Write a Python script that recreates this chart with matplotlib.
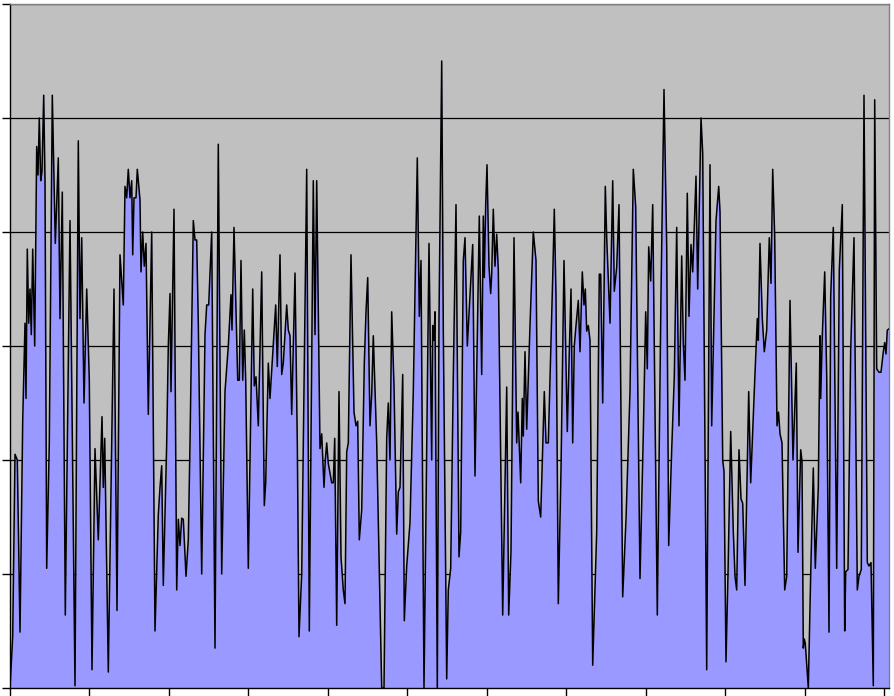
import matplotlib
matplotlib.use('Agg')
import matplotlib.pyplot as plt
import numpy as np

# values (x = position along axis, v = level, 0..60)
x = [0, 2.7, 5, 7.3, 10, 12.7, 15, 16, 17.3, 18.7, 20, 21.3, 22.7, 24.7, 26.7, 28, 29.3,
     30.7, 32, 33.7, 35, 36.7, 39.3, 42.3, 45.3, 48.3, 50, 52.3, 55.3, 60, 65, 68.3, 70,
     71.7, 74, 76.7, 79.3, 82, 85, 88.3, 92, 93.3, 94.7, 98.3, 104, 107,
     110, 113.3, 115, 116.7, 118.3, 120, 121.7, 122.7, 124, 126, 127.3, 130, 131, 132.7,
     134.3, 136, 138.3, 141.7, 145, 148.3, 150, 151.7, 153.3, 156.7, 158.3, 160, 161, 164,
     166.7, 168.3, 170, 171.7, 173.3, 176, 178.3, 180, 183.3, 185, 186.7, 188.3, 191.7,
     195, 196.7, 198.7, 201.7, 205, 208.3, 211.7,
     215, 218.3, 221, 222, 224, 227.7, 229.3, 231, 232.7, 234.3, 235.7, 238.3, 242.7,
     244.3, 246, 248.3, 251.7, 254.3, 255.7, 258.3, 260, 262.7, 265.7, 267.3, 270, 271.7,
     273.3, 276.7, 278.3, 280, 281.7, 285, 287.3, 289, 291.7, 296.7, 299.3, 303.3, 305,
     306.7, 310, 311.7, 314, 315.3, 316.7, 318.3, 321.7, 323.3, 324.7, 326.7, 329, 331,
     333.3, 335, 336.7, 338.3, 341, 344, 346, 347.7, 349.3, 351.7, 354.3, 356, 357.7, 360,
     361.7, 363.3, 366.7, 370, 371.7, 374, 376.7, 378.3, 380, 381.7, 384, 386.7, 388.3,
     390, 392.7, 394.3, 396.7, 400, 403.3, 407.3, 409.3, 411, 414, 415.7, 419, 421.7,
     422.7, 424, 425, 427.3, 429, 431.7, 433.3, 436.7, 438.3, 440.7,
     443.3, 446, 449, 450.7, 453.3, 455, 457.3, 460, 462.7, 465, 469.3, 471.7, 473.3,
     474.3, 475.7, 477, 479, 480.7, 481.7, 483.3, 485, 486.7, 488.3, 492.7, 496.7, 498.7,
     501, 504, 506.7, 508, 510.7, 512.3, 513.3, 515, 516.7, 520, 523.3, 526, 528.3, 530.7,
     534.3, 536, 538.3, 542.7, 544.3, 546, 548.3, 551, 554, 557.3, 559.3, 561, 562.7,
     564.3, 566, 568.3, 570, 572.3, 574, 575.3, 576.7, 578.3, 580, 582.7, 586.7, 589.3,
     590.7, 592.7, 595.3, 596.7, 600, 602.7, 604.3, 606.7, 609, 612.7, 616, 620, 623.3,
     625.7, 630, 633.3, 635.7, 637.3, 638.7, 640.7, 642.7, 647.3, 651, 654, 656.7, 658.7,
     661.7, 664.3, 666.7, 669, 671.7, 673.3, 675, 677.3, 679, 681, 682.7, 686, 687.7, 691,
     692.7, 696.7, 700, 701.7, 706, 708.7, 710, 712.7, 714, 716, 718, 720.7, 723.3, 725,
     726.7, 729, 731, 732.7, 735, 738.7, 740.7, 744.3, 747.3, 748.3, 750, 752.3, 754.3,
     756.7, 759.3, 761, 762.7, 764.7, 767, 768.5, 770, 772, 774.7, 776.7, 780, 783, 786.3,
     788, 790.7, 792, 793.3, 794.3, 795.3, 798.3, 800.7, 803.3, 805.3, 808.3, 810, 810.7,
     812.3, 814.7, 816.7, 819, 820.7, 823.3, 826.7, 829.3, 832.3, 834.7, 835.7, 838, 840.7,
     844, 847.3, 849, 851.3, 854, 857.3, 859, 861, 863.3, 864.7, 866.7, 869, 871, 873.3,
     874.7, 876, 877.3, 879]

v = [0, 4.5, 20.5, 20, 4.9, 23.4, 32, 25.4, 38.5, 32, 35, 31, 38.5, 30, 47.5, 45, 50,
     44.5, 45.3, 52, 44.5, 10.5, 21.5, 52, 39, 46.5, 32.4, 43.5, 6.4, 41, 0.2, 48, 32.4,
     39.5, 25, 35, 27, 1.6, 21, 13, 23.8, 17.6, 21.9, 1.4, 35, 6.8,
     38, 33.6, 44, 43, 45.5, 43, 44.5, 38, 43, 43, 45.5, 42.8, 36.5, 40,
     37, 39, 24, 40, 5, 15.2, 17.6, 19.5, 9, 21.5, 30, 34.6, 26, 42,
     8.6, 14.8, 12.5, 14.9, 14.8, 9.8, 13, 21.5, 41, 39.3, 39.3, 32, 10,
     31, 33.6, 33.6, 40, 3.5, 47.7, 10,
     26, 30, 34.5, 31.4, 40.4, 27, 27, 37.5, 27, 31.4, 27, 10.5, 35,
     26.5, 27.3, 23, 36.5, 16, 18, 28.5, 25.4, 29.3, 33.6, 28.2, 38, 27.5,
     28.5, 33.6, 31.4, 30.9, 24, 36.4, 21.5, 4.5, 10, 45.5, 5, 44.5, 31,
     44.5, 21, 22.3, 17.6, 20, 21.5, 19.7, 18, 18, 21.9, 5.5, 26, 11.5,
     8.6, 7.4, 20.7, 21.5, 38, 24.2, 23, 23.4, 13, 15.6, 28.5, 33, 36, 23,
     25.8, 30.9, 21.5, 7.4, 0, 0, 21.9, 25, 20, 33, 26.5, 13.5, 17.2,
     17.6, 27.5, 5.9, 10.7, 14.5, 26, 46.5, 32.6, 37.5, 0, 13.5, 39, 20,
     31.8, 30.5, 33, 0, 32.4, 55, 31.4, 0.8, 8.6, 10.5,
     27.3, 42.4, 11.5, 13.7, 37.5, 39.5, 30, 34.4, 38.9, 18.6, 41.4, 27.5, 41.4,
     36, 42.4, 45.9, 37, 34.6, 36.3, 42, 37, 39.8, 36.7, 6.4, 26.4, 6.4,
     12, 39.5, 21.5, 24.2, 18, 25.4, 22.1, 29.5, 22.7, 31.8, 40, 37.5, 16.4, 15,
     26, 21.5, 21.5, 36, 42, 34.4, 7.4, 19.1, 37.5, 22.5, 29.5, 35, 21.5,
     30, 31.8, 34, 29.5, 36.5, 33.6, 35, 31.3, 31.8, 30.5, 2, 13.7, 36.3,
     36.3, 25, 44, 39.5, 32, 44.5, 34.8, 36.9, 42.4, 8, 14.8, 26, 45.5,
     42.2, 9.6, 22.3, 33, 28, 38.7, 35.7, 42.4, 6.4, 34.6, 52.5, 38.7, 12.5,
     20.9, 27.3, 40.4, 23, 37.9, 30.3, 27, 43.4, 32.6, 38.9, 36.5, 44.9, 35, 50,
     46.9, 1.6, 45.9, 23, 41, 44, 41.8, 20, 19, 2.3, 10, 22.5, 13.7, 9.8,
     8.6, 20.9, 16.6, 16.2, 9, 26, 18, 26.1, 32.4, 30.5, 39, 32.4, 29.5,
     31.4, 39.5, 35.5, 45.5, 39.6, 23, 24.2, 22.3, 21.5, 8.6, 9.8, 34, 20, 28.5,
     11.9, 20.9, 19.9, 3.5, 4.3, 3.9, 0, 10, 19.3, 10.5, 17.6, 30.9, 25.4,
     30.9, 36.5, 27.3, 4.9, 34.4, 40.4, 10.5, 36.7, 42.4, 5, 10.2, 10.4, 29.7,
     39.5, 8.6, 9.8, 10.4, 52, 11, 10.7, 11, 0.2, 51.6, 28, 27.7, 27.7, 29.5,
     30.3, 29.3, 31.4, 31.5]

x = np.array(x)
v = np.array(v)

fig = plt.figure(figsize=(8.94, 6.96), dpi=100)
ax = fig.add_axes([10/894, 8/696, 879/894, 684/696])
ax.set_facecolor('#C0C0C0')

ax.fill_between(x, 0, v, color='#9999FF', lw=0, zorder=2)
ax.plot(x, v, color='black', lw=1.1, zorder=3)

ax.set_xlim(0, 879)
ax.set_ylim(0, 60)
ax.set_yticks(np.arange(0, 61, 10))
ax.set_xticks(np.arange(12) * 79.5)
ax.set_xticklabels([])
ax.set_yticklabels([])
ax.grid(axis='y', color='black', lw=0.9, zorder=1)
ax.grid(axis='x', visible=False)
ax.set_axisbelow(True)
ax.tick_params(axis='both', direction='out', length=5.5, width=1, color='black')

for s in ['top', 'right']:
    ax.spines[s].set_color('#808080')
    ax.spines[s].set_linewidth(1)
for s in ['left', 'bottom']:
    ax.spines[s].set_color('black')
    ax.spines[s].set_linewidth(1)

plt.savefig('out.png', dpi=100)
